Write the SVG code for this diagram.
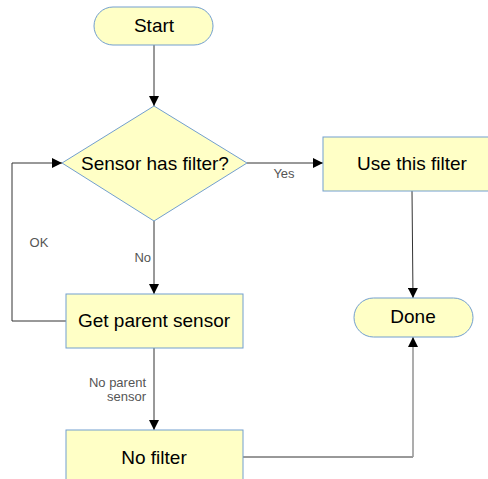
<svg xmlns="http://www.w3.org/2000/svg" width="488" height="479" viewBox="0 0 488 479">
  <style>
    .shape { fill: #ffffc6; stroke: #729fcf; stroke-width: 1; }
    .label { font-family: "Liberation Sans", Arial, sans-serif; font-size: 19px; fill: #000; text-anchor: middle; }
    .edge { fill: none; stroke: #333; stroke-width: 1; }
    .edge-light { fill: none; stroke: #999; stroke-width: 1.6; }
    .note { font-family: "Liberation Sans", Arial, sans-serif; font-size: 13px; fill: #555; }
  </style>
  <defs>
    <marker id="arrow" viewBox="0 0 10 10" refX="10" refY="5" markerWidth="10" markerHeight="10" markerUnits="userSpaceOnUse" orient="auto">
      <path d="M0,0 L10,5 L0,10 z" fill="#000"/>
    </marker>
  </defs>
  <rect width="488" height="479" fill="#fff"/>

  <g id="connectors">
    <path class="edge" d="M154,45 V106" marker-end="url(#arrow)"/>
    <path class="edge" d="M247,163 H323" marker-end="url(#arrow)"/>
    <path class="edge" d="M154,221 V294" marker-end="url(#arrow)"/>
    <path class="edge" d="M66,321 H12 V163 H62" marker-end="url(#arrow)"/>
    <path class="edge" d="M412,191 L413,298" marker-end="url(#arrow)"/>
    <path class="edge" d="M154,348 V430" marker-end="url(#arrow)"/>
    <path class="edge" d="M243,457 H413"/>
    <path class="edge-light" d="M413,457 V337" marker-end="url(#arrow)"/>
    <text class="note" x="284" y="178" text-anchor="middle">Yes</text>
    <text class="note" x="151" y="262" text-anchor="end">No</text>
    <text class="note" x="39" y="247" text-anchor="middle">OK</text>
    <text class="note" x="146" y="387" text-anchor="end">No parent</text>
    <text class="note" x="146" y="401" text-anchor="end">sensor</text>
  </g>

  <g id="start">
    <rect class="shape" x="94" y="7" width="119" height="38" rx="19" ry="19"/>
    <text class="label" x="154" y="32">Start</text>
  </g>

  <g id="decision">
    <polygon class="shape" points="154,106 247,163 154,221 62,163"/>
    <text class="label" x="155" y="170">Sensor has filter?</text>
  </g>

  <g id="use-filter">
    <rect class="shape" x="323" y="137" width="178" height="54"/>
    <text class="label" x="412" y="170">Use this filter</text>
  </g>

  <g id="done">
    <rect class="shape" x="354" y="298" width="119" height="39" rx="19.5" ry="19.5"/>
    <text class="label" x="413" y="323">Done</text>
  </g>

  <g id="get-parent">
    <rect class="shape" x="66" y="294" width="177" height="54"/>
    <text class="label" x="154" y="327">Get parent sensor</text>
  </g>

  <g id="no-filter">
    <rect class="shape" x="66" y="430" width="177" height="60"/>
    <text class="label" x="154" y="464">No filter</text>
  </g>
</svg>
